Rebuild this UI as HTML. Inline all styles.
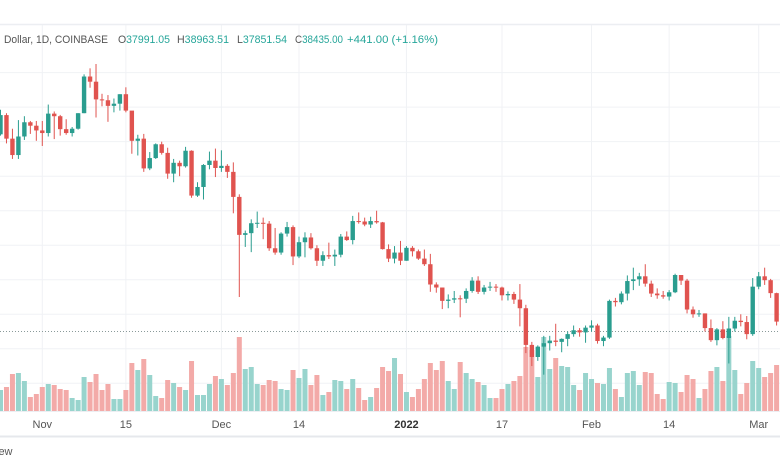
<!DOCTYPE html>
<html><head><meta charset="utf-8">
<style>
html,body{margin:0;padding:0;background:#fff;}
body{width:780px;height:470px;overflow:hidden;font-family:"Liberation Sans",sans-serif;}
svg{display:block;}
</style></head>
<body>
<svg id="chart" width="780" height="470" viewBox="0 0 780 470" xmlns="http://www.w3.org/2000/svg">
  <g id="grid"></g>
  <line x1="0" y1="24.5" x2="780" y2="24.5" stroke="#eceef2" stroke-width="1.5"/>
  <g id="vol"></g>
  <line x1="0" y1="331.5" x2="780" y2="331.5" stroke="#8a9a9a" stroke-width="1" stroke-dasharray="1,2"/>
  <g id="candles"></g>
  <rect x="0" y="411" width="780" height="25" fill="#fff"/>
  <line x1="0" y1="411.5" x2="780" y2="411.5" stroke="#eceef2"/>
  <line x1="0" y1="436.5" x2="780" y2="436.5" stroke="#e6e8ec" stroke-width="2"/>
  <g id="xlabels"></g>
  <g font-size="11" fill="#555">
    <text x="4" y="43" textLength="104" lengthAdjust="spacingAndGlyphs">Dollar, 1D, COINBASE</text>
    <text x="118" y="43" textLength="52" lengthAdjust="spacingAndGlyphs">O<tspan fill="#26a69a">37991.05</tspan></text>
    <text x="177" y="43" textLength="52" lengthAdjust="spacingAndGlyphs">H<tspan fill="#26a69a">38963.51</tspan></text>
    <text x="237" y="43" textLength="50" lengthAdjust="spacingAndGlyphs">L<tspan fill="#26a69a">37851.54</tspan></text>
    <text x="295" y="43" textLength="48" lengthAdjust="spacingAndGlyphs">C<tspan fill="#26a69a">38435.00</tspan></text>
    <text x="347" y="43" fill="#26a69a" textLength="91" lengthAdjust="spacingAndGlyphs">+441.00 (+1.16%)</text>
  </g>
  <text x="-4" y="455" font-size="11" fill="#555">iew</text>
</svg>
<script>
const opens=[60850,63080,60350,58450,60600,62250,61850,61300,61000,63250,62950,61450,61000,61500,63300,67550,66950,64900,64800,64150,64400,65500,63600,60100,60350,56900,58100,59700,58700,56300,57550,57150,58950,53750,54750,57300,57800,56950,57200,56500,53600,49200,49400,50550,50600,50500,47650,47150,49350,50100,46700,48350,48900,47650,46200,46850,46700,46900,49000,48600,50800,50750,50400,50800,50650,47550,46450,47150,46200,47700,47300,46450,45800,43450,43100,41550,41700,41850,41800,42700,43900,42600,43100,43200,43100,42200,42350,41700,40700,36450,35050,36250,36650,36950,36800,37150,37700,38150,37900,38450,38700,36900,37300,41550,41400,42400,43850,44050,44400,43550,42400,42200,42050,42550,44550,43900,40550,40000,40100,38400,37000,38250,37250,38350,39250,39100,37700,43200,44400,43950,42450,39150];
const closes=[63080,60350,58450,60600,62250,61850,61300,61000,63250,62950,61450,61000,61500,63300,67550,66950,64900,64800,64150,64400,65500,63600,60100,60350,56900,58100,59700,58700,56300,57550,57150,58950,53750,54750,57300,57800,56950,57200,56500,53600,49200,49400,50550,50600,50500,47650,47150,49350,50100,46700,48350,48900,47650,46200,46850,46700,46900,49000,48600,50800,50750,50400,50800,50650,47550,46450,47150,46200,47700,47300,46450,45800,43450,43100,41550,41700,41850,41800,42700,43900,42600,43100,43200,43100,42200,42350,41700,40700,36450,35050,36250,36650,36950,36800,37150,37700,38150,37900,38450,38700,36900,37300,41550,41400,42400,43850,44050,44400,43550,42400,42200,42050,42550,44550,43900,40550,40000,40100,38400,37000,38250,37250,38350,39250,39100,37700,43200,44400,43950,42450,39150,39400];
const highs=[63700,63300,61500,62500,62950,62400,62400,62400,64300,63500,63100,62600,61700,63300,67800,68500,69000,65550,65400,65000,65500,66300,63500,60800,60900,58800,59800,60000,59300,58000,57800,59400,59000,55300,57400,58850,59200,59000,57400,57600,53900,49700,51000,51900,51200,50800,50000,49500,50700,50300,49000,49500,49400,48000,47300,48300,47500,49300,49600,51400,51800,51200,51300,52000,50700,48100,47900,48500,47900,47900,47500,47500,47000,43700,43100,42300,42700,42200,43000,44300,44400,43400,43750,43500,43200,42650,42600,43500,41100,36800,36400,37500,37500,38900,37200,38000,38700,38400,38700,39300,38900,37500,41700,41900,42650,44500,45400,44800,45800,43900,43000,42700,42800,44700,44550,44100,40900,40500,40100,39400,38400,39200,39700,39700,40000,39800,44200,44900,45400,44100,42500,39700];
const lows=[60700,59800,58000,58000,60200,60900,60100,59500,60600,60300,60700,60800,60600,61400,63300,66250,62800,64100,62300,63400,63600,63400,58600,58400,56500,56700,58000,58500,55700,55300,56000,57000,53500,53600,53300,56800,55900,56500,55800,51700,42000,47800,47200,50000,48700,47350,46900,46900,49000,45700,46500,46600,47500,45600,45600,46400,45600,46600,48500,48100,50500,50200,50000,50500,47500,46050,45900,45700,46200,46700,46300,45600,42600,42500,40600,40700,41300,39650,41300,42500,42350,42300,42700,42600,41600,41600,41200,38600,35500,34000,34600,33000,35800,36300,35600,36300,37400,37400,36700,38000,36600,36300,37150,40900,41150,41600,42800,43300,43200,42000,41800,41800,41600,42450,43400,40100,39600,39700,38000,36800,36400,37100,34300,38000,38600,37100,37500,42900,43400,41900,38700,38600];
const volumes=[21,24,37,38,30,14,17,24,27,26,22,21,13,11,34,29,37,21,27,12,12,21,48,41,52,36,15,13,31,28,24,21,50,16,16,27,35,32,26,38,74,42,44,27,26,31,30,22,21,41,33,42,26,36,16,19,31,30,22,32,23,11,14,23,44,40,53,37,19,14,22,32,48,41,50,30,22,49,38,32,29,26,13,13,22,27,30,35,64,61,34,74,42,53,45,44,26,21,38,32,28,27,43,22,14,38,40,26,39,38,17,12,29,28,19,36,32,13,22,40,44,30,75,41,17,28,50,43,34,38,46,17];
const tickLabels=["Nov","15","Dec","14","2022","17","Feb","14","Mar"];
const tickIndex=[7,21,37,50,68,84,99,112,127];
const gridPrices=[68000,64000,60000,56000,52000,48000,44000,40000,36000,32000];

const NS="http://www.w3.org/2000/svg";
function xOf(i){return 0.5+i*5.97;}
function yOf(p){return 64+(69000-p)*0.00863;}
function vOf(v){return 411-v*1.0;}
function mk(tag,attrs,parent){const e=document.createElementNS(NS,tag);for(const k in attrs)e.setAttribute(k,attrs[k]);parent.appendChild(e);return e;}

const grid=document.getElementById('grid');
tickIndex.forEach((ti)=>{
  const l=mk('line',{x1:xOf(ti),x2:xOf(ti),y1:25,y2:411,stroke:'#f0f2f5','stroke-width':1},grid);
  
  
});
gridPrices.forEach((p)=>{
  const y=yOf(p);
  const l=mk('line',{x1:0,x2:780,y1:y,y2:y,stroke:'#f0f2f5','stroke-width':1},grid);
  
  
});

const vol=document.getElementById('vol');
volumes.forEach((v,i)=>{
  const up=closes[i]>=opens[i];
  const r=mk('rect',{x:xOf(i)-2.5,y:vOf(v),width:5,height:411-vOf(v),fill:up?'#98d4cd':'#f3aaa8'},vol);
  
  
});

const cg=document.getElementById('candles');
closes.forEach((c,i)=>{
  const o=opens[i],up=c>=o,col=up?'#2a9d8f':'#e0534f';
  const x=xOf(i);
  const g=mk('g',{},cg);
  
  
  mk('line',{x1:x,x2:x,y1:yOf(highs[i]),y2:yOf(lows[i]),stroke:col,'stroke-width':1},g);
  const top=yOf(Math.max(o,c)),bot=yOf(Math.min(o,c));
  mk('rect',{x:x-2.2,y:top,width:4.4,height:Math.max(1,bot-top),fill:col},g);
});

const xl=document.getElementById('xlabels');
tickLabels.forEach((t,k)=>{
  const e=mk('text',{x:xOf(tickIndex[k]),y:428,'text-anchor':'middle','font-size':11,fill:t==='2022'?'#333':'#555','font-weight':t==='2022'?'bold':'normal'},xl);
  e.textContent=t;
  
  
});
</script>
</body></html>
